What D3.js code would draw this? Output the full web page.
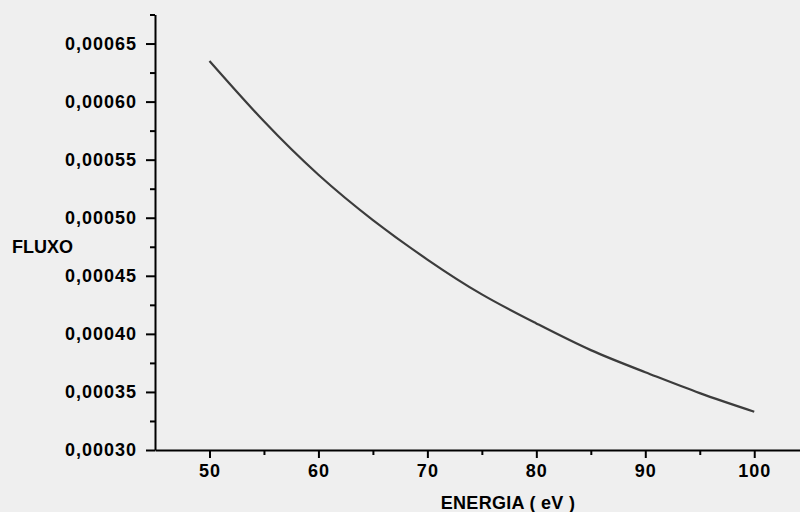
<!DOCTYPE html>
<html>
<head>
<meta charset="utf-8">
<script src="https://cdn.jsdelivr.net/npm/d3@7"></script>
<style>
    body { margin: 0; background: #efefef; }
    svg { display: block; }
    .tick text { font-family: "Liberation Sans", Arial, sans-serif; font-weight: bold; font-size: 18px; fill: #000; }
</style>
</head>
<body>
<div id="visualHolder"></div>
<script>
// energia (eV) e fluxo
const energia = [50, 55, 60, 65, 70, 75, 80, 85, 90, 95, 100]
const fluxo = [0.000635, 0.000583, 0.000537, 0.000498, 0.000464, 0.000434, 0.000409, 0.000386, 0.000367, 0.000349, 0.000333]

const xMajor = [50, 60, 70, 80, 90, 100]
const xMinor = [55, 65, 75, 85, 95]
const yMajor = [0.00030, 0.00035, 0.00040, 0.00045, 0.00050, 0.00055, 0.00060, 0.00065]
const yMinor = [0.000325, 0.000375, 0.000425, 0.000475, 0.000525, 0.000575, 0.000625, 0.000675]

const width = 800
const height = 512
const ink = "#000"
const curveColor = "#3c3c3c"

const ptBR = d3.formatLocale({ decimal: ",", thousands: ".", grouping: [3], currency: ["R$", ""] })
const yFormat = ptBR.format(".5f")

const svg = d3.select("#visualHolder")
    .append("svg")
    .attr("width", width)
    .attr("height", height)

svg.append("rect")
    .attr("width", width)
    .attr("height", height)
    .attr("fill", "#efefef")

const x = d3.scaleLinear()
    .domain([45, 104.2])
    .range([155, 800])

const y = d3.scaleLinear()
    .domain([0.0003, 0.000675])
    .range([450, 14.5])

// minor ticks first
svg.append("g")
    .attr("transform", "translate(0,450)")
    .call(d3.axisBottom(x).tickValues(xMinor).tickSize(5).tickFormat("").tickSizeOuter(0))
    .call(g => g.select(".domain").remove())

svg.append("g")
    .attr("transform", "translate(155,0)")
    .call(d3.axisLeft(y).tickValues(yMinor).tickSize(5).tickFormat("").tickSizeOuter(0))
    .call(g => g.select(".domain").remove())

const xAxis = svg.append("g").attr("id", "x-axis")
    .attr("transform", "translate(0,450)")
    .call(d3.axisBottom(x).tickValues(xMajor).tickSize(8).tickPadding(6).tickSizeOuter(0))

const yAxis = svg.append("g").attr("id", "y-axis")
    .attr("transform", "translate(155,0)")
    .call(d3.axisLeft(y).tickValues(yMajor).tickSize(9).tickPadding(9).tickFormat(yFormat).tickSizeOuter(0))

svg.selectAll(".tick line").attr("stroke", ink).attr("stroke-width", 2)
svg.selectAll(".domain").attr("stroke", ink).attr("stroke-width", 2)
yAxis.selectAll("text").style("letter-spacing", "1px")
xAxis.selectAll("text").style("letter-spacing", "1px")

svg.append("path")
    .datum(energia.map((e, i) => [e, fluxo[i]]))
    .attr("fill", "none")
    .attr("stroke", curveColor)
    .attr("stroke-width", 2.2)
    .attr("d", d3.line()
        .x(d => x(d[0]))
        .y(d => y(d[1]))
        .curve(d3.curveNatural))

svg.append("text")
    .attr("x", 12)
    .attr("y", 253)
    .attr("font-family", "Liberation Sans, Arial, sans-serif")
    .attr("font-weight", "bold")
    .attr("font-size", "18px")
    .text("FLUXO")

svg.append("text")
    .attr("x", 508)
    .attr("y", 509)
    .attr("text-anchor", "middle")
    .attr("font-family", "Liberation Sans, Arial, sans-serif")
    .attr("font-weight", "bold")
    .attr("font-size", "18px")
    .style("letter-spacing", "0.3px")
    .text("ENERGIA ( eV )")
</script>
</body>
</html>
